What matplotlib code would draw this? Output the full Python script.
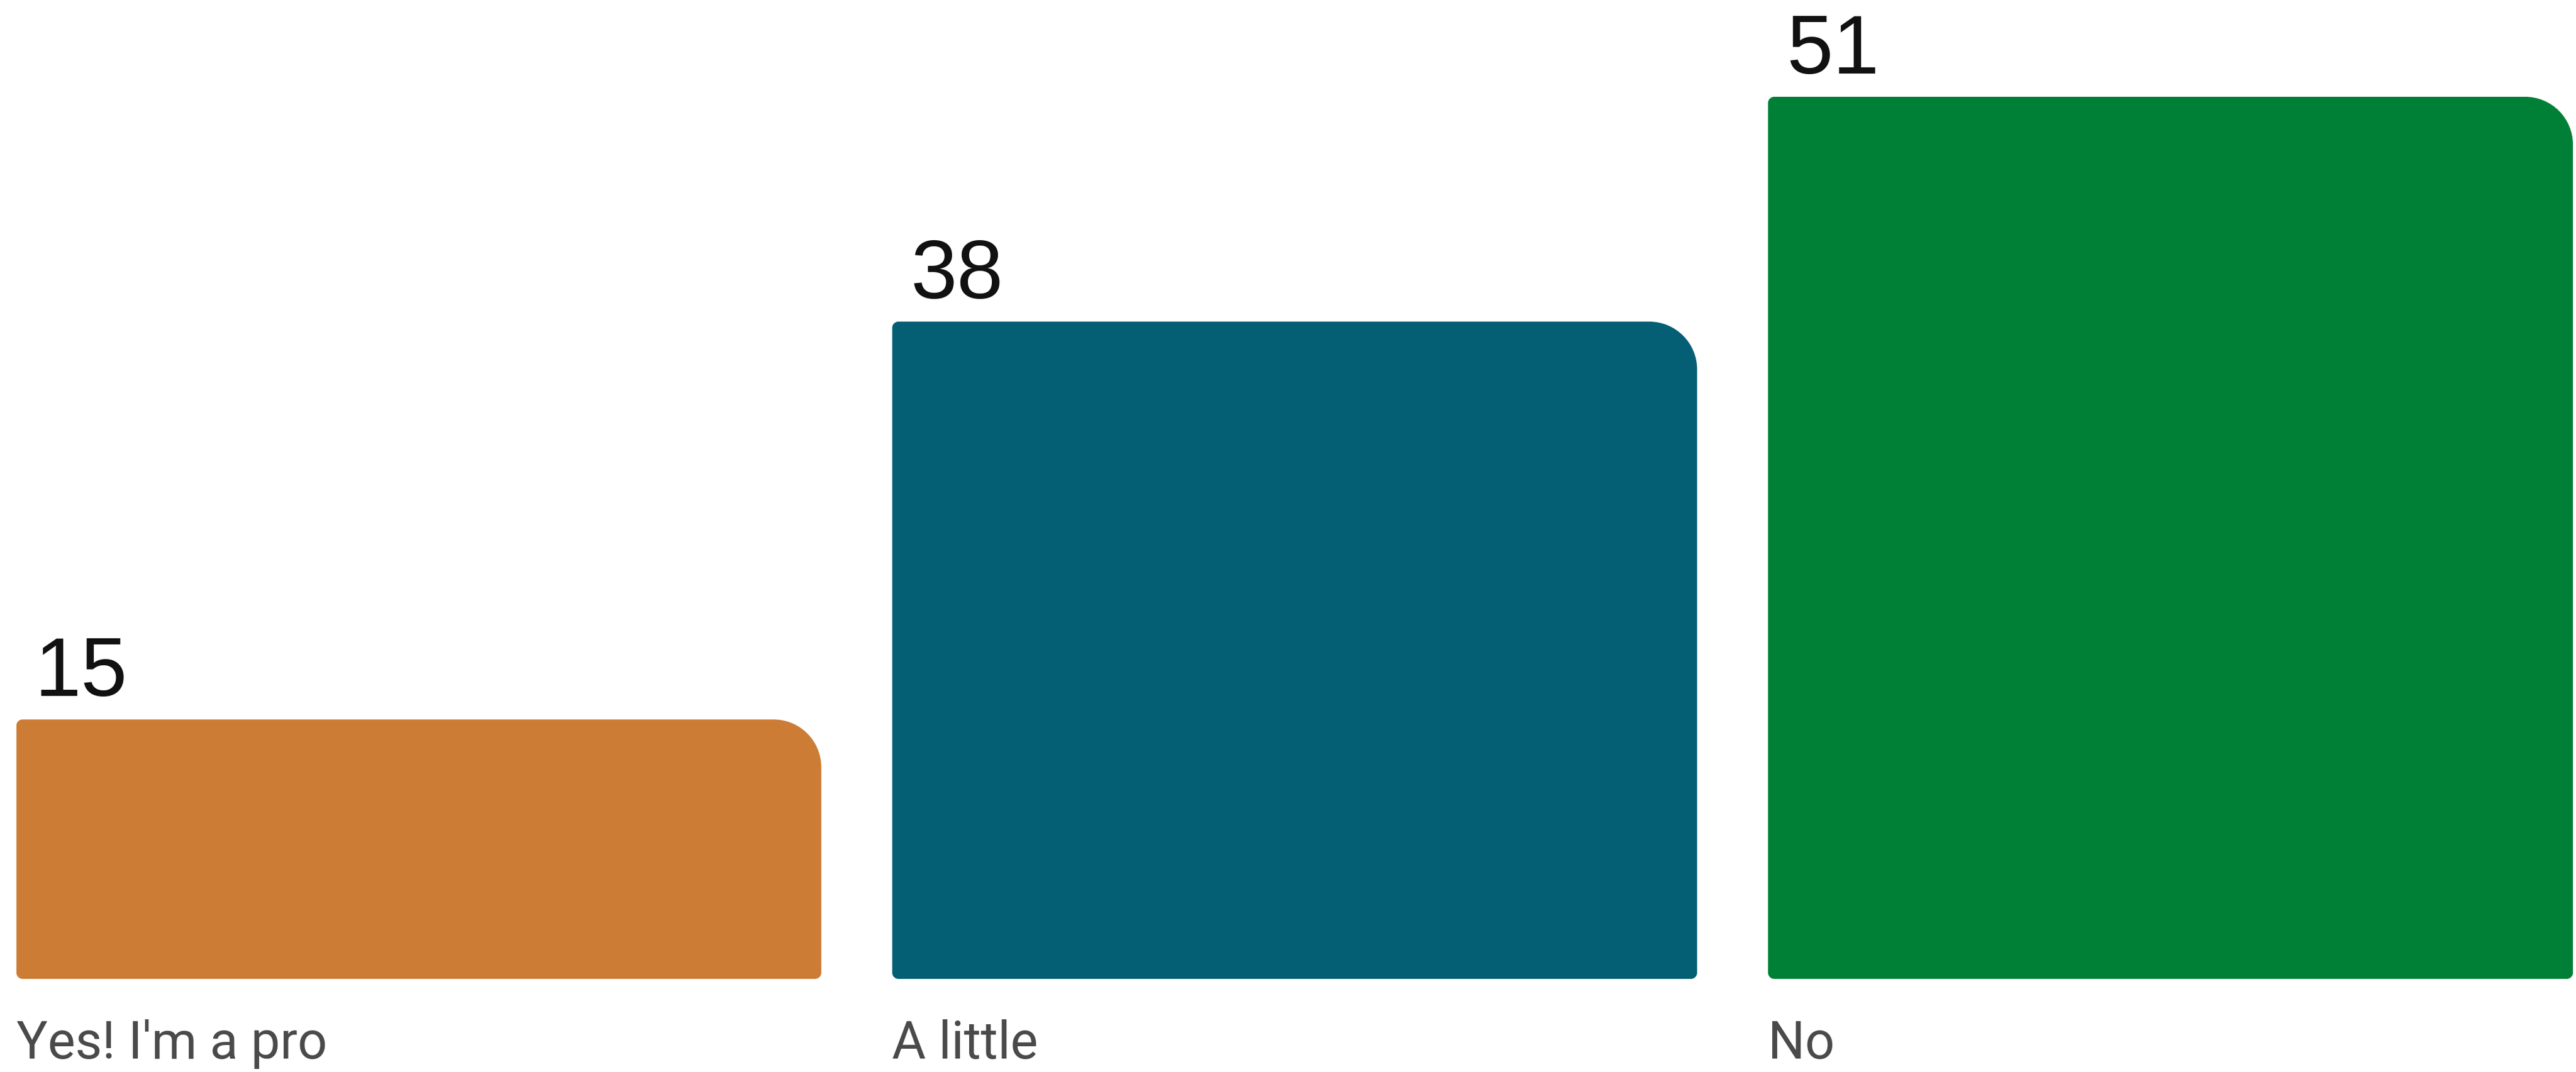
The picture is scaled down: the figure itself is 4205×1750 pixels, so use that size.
import matplotlib.pyplot as plt
from matplotlib.path import Path
from matplotlib.patches import PathPatch

categories = ["Yes! I'm a pro", "A little", "No"]
values = [15, 38, 51]
colors = ["#CD7C36", "#045E74", "#008037"]

W, H, DPI = 4205, 1750, 100
fig = plt.figure(figsize=(W / DPI, H / DPI), dpi=DPI)
fig.patch.set_facecolor("white")

bar_w = 0.919
ax_left, ax_bottom = 26.8 / W, 1 - 1598 / H
ax_width, ax_height = (4200 - 26.8) / W, (1598 - 158) / H
ax = fig.add_axes([ax_left, ax_bottom, ax_width, ax_height])
ax.set_xlim(-bar_w / 2, len(values) - 1 + bar_w / 2)
ax.set_ylim(0, max(values))
ax.axis("off")

# pixels per data unit, used to turn pixel radii into data radii
px_x = ax_width * W / (ax.get_xlim()[1] - ax.get_xlim()[0])
px_y = ax_height * H / (ax.get_ylim()[1] - ax.get_ylim()[0])

K = 0.5523


def rounded_bar(x0, x1, top, r_big, r_small, color):
    bx, by = r_big / px_x, r_big / px_y
    sx, sy = r_small / px_x, r_small / px_y
    verts = [
        (x0, sy),
        (x0, top - sy),
        (x0, top - sy * (1 - K)), (x0 + sx * (1 - K), top), (x0 + sx, top),
        (x1 - bx, top),
        (x1 - bx * (1 - K), top), (x1, top - by * (1 - K)), (x1, top - by),
        (x1, sy),
        (x1, sy * (1 - K)), (x1 - sx * (1 - K), 0), (x1 - sx, 0),
        (x0 + sx, 0),
        (x0 + sx * (1 - K), 0), (x0, sy * (1 - K)), (x0, sy),
        (x0, sy),
    ]
    codes = [Path.MOVETO, Path.LINETO,
             Path.CURVE4, Path.CURVE4, Path.CURVE4,
             Path.LINETO,
             Path.CURVE4, Path.CURVE4, Path.CURVE4,
             Path.LINETO,
             Path.CURVE4, Path.CURVE4, Path.CURVE4,
             Path.LINETO,
             Path.CURVE4, Path.CURVE4, Path.CURVE4,
             Path.CLOSEPOLY]
    ax.add_patch(PathPatch(Path(verts, codes), facecolor=color,
                           edgecolor="none", clip_on=False))


for i, (cat, val, col) in enumerate(zip(categories, values, colors)):
    x0 = i - bar_w / 2
    x1 = i + bar_w / 2
    rounded_bar(x0, x1, val, 78, 10, col)
    # value label above the bar
    ax.text(x0 + 30 / px_x, val + 38 / px_y, str(val), ha="left", va="baseline",
            fontsize=98, color="#111111", family="Liberation Sans", clip_on=False)
    # category label under the bar
    ax.text(x0, -(1728 - 1598) / px_y, cat, ha="left", va="baseline",
            fontsize=61, color="#4a4a4a", family="Roboto", clip_on=False)

fig.savefig("out.png", dpi=DPI, facecolor="white")
